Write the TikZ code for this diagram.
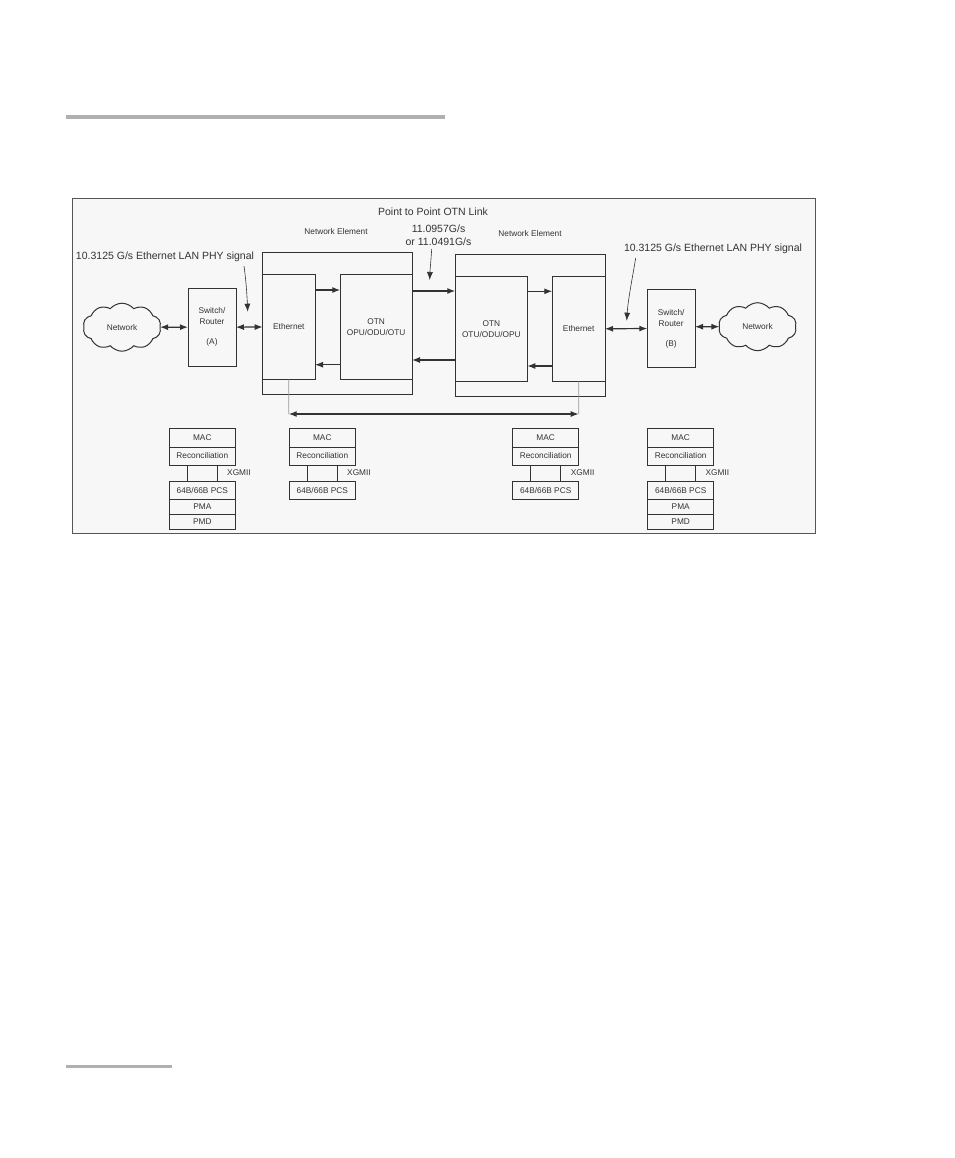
\documentclass[tikz,border=0pt]{standalone}
\usepackage{fontspec}
\setmainfont{Liberation Sans}
\usetikzlibrary{arrows.meta,shapes.symbols}
\definecolor{ink}{HTML}{333333}
\definecolor{framegray}{HTML}{555555}
\definecolor{panel}{HTML}{F7F7F7}
\definecolor{rulegray}{HTML}{B0B0B0}
\definecolor{thingray}{HTML}{999999}
\tikzset{
  box/.style={draw=ink,line width=0.9pt,inner sep=0pt,outer sep=0pt,align=center,text=ink,font=\fontsize{8.3}{11}\selectfont},
  netcloud/.style={cloud,draw=ink,line width=1pt,cloud puffs=10,cloud puff arc=100,aspect=1.65,inner sep=0pt,outer sep=0pt,minimum width=78pt,minimum height=48pt,text=ink,font=\fontsize{8.3}{11}\selectfont},
  small/.style={text=ink,font=\fontsize{8.3}{11}\selectfont,inner sep=0pt},
  large/.style={text=ink,font=\fontsize{10.5}{13}\selectfont,inner sep=0pt,align=center},
  arr/.style={draw=ink,line width=1.2pt,-{Latex[length=8pt,width=6pt]}},
  dbl/.style={draw=ink,line width=1.2pt,{Latex[length=8pt,width=6pt]}-{Latex[length=8pt,width=6pt]}},
  pointer/.style={draw=ink,line width=0.6pt,-{Latex[length=8pt,width=6pt]}},
  thinline/.style={draw=thingray,line width=0.7pt},
  leg/.style={draw=ink,line width=0.8pt},
  toprule/.style={draw=rulegray,line width=3.5pt}
}
% \bx{name}{x1}{y1}{x2}{y2}{text}
\newcommand{\bx}[6]{\node[box,minimum width={(#4-#2)*1pt},minimum height={(#5-#3)*1pt}] (#1) at ({(#2+#4)/2},{(#3+#5)/2}) {#6};}
% \stackhead{prefix}{x1}{xgmii centre}
\newcommand{\stackhead}[3]{%
  \bx{#1mac}{#2}{428.3}{#2+66}{447}{MAC}
  \bx{#1rec}{#2}{447}{#2+66}{465}{Reconciliation}
  \bx{#1pcs}{#2}{481.3}{#2+66}{499.7}{64B/66B PCS}
  \draw[leg] ([xshift=-15pt]#1rec.south) -- ([xshift=-15pt]#1pcs.north);
  \draw[leg] ([xshift=15pt]#1rec.south) -- ([xshift=15pt]#1pcs.north);
  \node[small] (#1xg) at (#3,473) {XGMII};
}
\newcommand{\stacktail}[2]{%
  \bx{#1pma}{#2}{499.7}{#2+66}{514.3}{PMA}
  \bx{#1pmd}{#2}{514.3}{#2+66}{529.7}{PMD}
}
\begin{document}
\begin{tikzpicture}[x=1pt,y=-1pt]
\useasboundingbox (0,0) rectangle (954,1158);
\fill[white] (0,0) rectangle (954,1158);
\coordinate (ruleAa) at (66,117); \coordinate (ruleAb) at (445,117);
\coordinate (ruleBa) at (66,1066.5); \coordinate (ruleBb) at (172,1066.5);
\draw[toprule] (ruleAa) -- (ruleAb);
\draw[toprule] (ruleBa) -- (ruleBb);
\node[draw=framegray,fill=panel,line width=0.9pt,inner sep=0pt,minimum width=743pt,minimum height=335.5pt] (panel) at (443.5,365.75) {};

\node[large] (title) at (433,212) {Point to Point OTN Link};
\node[small] (neA) at (336,232) {Network Element};
\node[small] (neB) at (530,233.7) {Network Element};
\node[large] (rate) at (438.5,235.5) {11.0957G/s\\or 11.0491G/s};
\node[large] (sigA) at (165,257) {10.3125 G/s Ethernet LAN PHY signal};
\node[large] (sigB) at (713,249) {10.3125 G/s Ethernet LAN PHY signal};

\bx{elemA}{262.7}{252.7}{412}{394}{}
\bx{elemB}{455.3}{254}{605}{396}{}
\bx{ethA}{262.7}{274.7}{315}{379.3}{Ethernet}
\bx{otnA}{340.3}{274.7}{412}{379.3}{OTN\\OPU/ODU/OTU}
\bx{otnB}{455.3}{276.3}{527.3}{381.3}{OTN\\OTU/ODU/OPU}
\bx{ethB}{552.3}{276.3}{605}{381.3}{Ethernet}
\bx{swA}{188}{288.3}{236}{366}{Switch/\\Router\\[9pt](A)}
\bx{swB}{647.3}{289.7}{695}{367.3}{Switch/\\Router\\[9pt](B)}
\node[netcloud] (cloudA) at (122,327.2) {Network};
\node[netcloud] (cloudB) at (757.5,326.7) {Network};

\draw[dbl] (cloudA.east) -- (swA.west);
\draw[dbl] (swA.east) -- (ethA.west);
\draw[arr] ([yshift=37pt]ethA.east) -- ([yshift=37pt]otnA.west);
\draw[arr] ([yshift=-37.7pt]otnA.west) -- ([yshift=-37.7pt]ethA.east);
\draw[arr] ([yshift=36pt]otnA.east) -- ([yshift=37.8pt]otnB.west);
\draw[arr] ([yshift=-31.2pt]otnB.west) -- ([yshift=-33pt]otnA.east);
\draw[arr] ([yshift=37.5pt]otnB.east) -- ([yshift=37.5pt]ethB.west);
\draw[arr] ([yshift=-37.2pt]ethB.west) -- ([yshift=-37.2pt]otnB.east);
\draw[dbl] (ethB.east) -- (swB.west);
\draw[dbl] ([yshift=1.8pt]swB.east) -- (cloudB.west);

\coordinate (busA) at (288.7,414);
\coordinate (busB) at (578.7,414);
\draw[thinline] (ethA.south) -- (busA);
\draw[thinline] (ethB.south) -- (busB);
\draw[dbl] (busA) -- (busB);

\coordinate (ptAs) at (244,266); \coordinate (ptAe) at (247.7,311.7);
\coordinate (ptMs) at (431.7,249); \coordinate (ptMe) at (429.7,280);
\coordinate (ptBs) at (635.7,258); \coordinate (ptBe) at (626.7,320.7);
\draw[pointer] (ptAs) .. controls (246,280) and (247,295) .. (ptAe);
\draw[pointer] (ptMs) .. controls (431,260) and (430,270) .. (ptMe);
\draw[pointer] (ptBs) .. controls (632,280) and (628,300) .. (ptBe);

\stackhead{a}{169.3}{239}
\stacktail{a}{169.3}
\stackhead{b}{289.3}{359}
\stackhead{c}{512.7}{582.7}
\stackhead{d}{647.7}{717.3}
\stacktail{d}{647.7}
\end{tikzpicture}
\end{document}
